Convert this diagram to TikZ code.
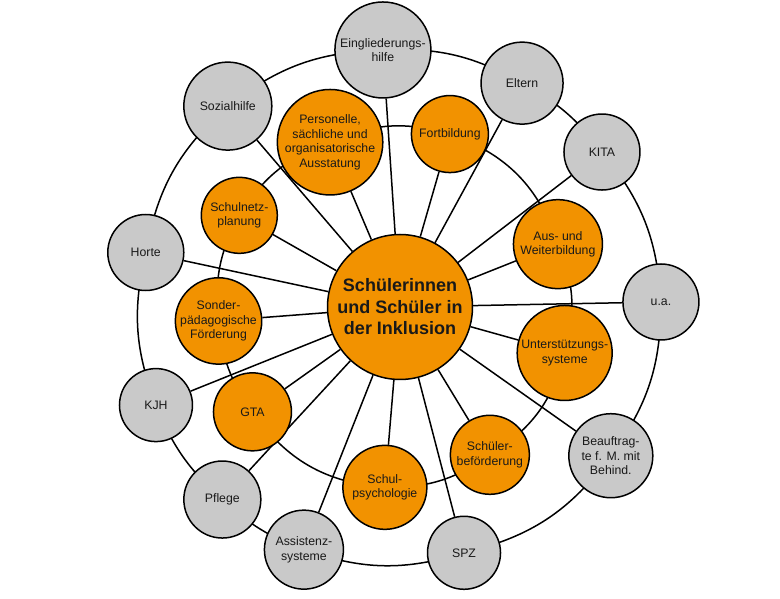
\documentclass[tikz,border=0pt]{standalone}
\usepackage{fontspec}
\setmainfont{Liberation Sans}
\usetikzlibrary{backgrounds}
\definecolor{ringgrey}{RGB}{201,201,201}
\definecolor{schoolorange}{RGB}{242,146,0}
\tikzset{
  base/.style={circle, draw=black, line width=1.5pt, inner sep=0pt, align=center,
    text=black!90, font=\fontsize{12.3}{14.5}\selectfont},
  partner/.style={base, fill=ringgrey},
  school/.style={base, fill=schoolorange},
  hub/.style={base, fill=schoolorange, minimum size=145pt,
    font=\fontsize{18}{21.5}\selectfont\bfseries},
  link/.style={line width=1.5pt}
}
\begin{document}
\begin{tikzpicture}[x=1pt, y=1pt]
  \useasboundingbox (0,0) rectangle (780,598);
  \begin{scope}[shift={(400,291)}]
    \draw
      (0,0) node[hub] (hub) {Schülerinnen\\und Schüler in\\der Inklusion}
      (93.8:257.6) node[partner, minimum size=96pt] (eingl) {Eingliederungs-\\hilfe}
      (61.4:255) node[partner, minimum size=82pt] (eltern) {Eltern}
      (37.5:254.6) node[partner, minimum size=76pt] (kita) {KITA}
      (1.1:261) node[partner, minimum size=76pt] (ua) {u.a.}
      (-35.2:258) node[partner, minimum size=84pt] (beauftragte) {Beauftrag-\\te f. M. mit\\Behind.}
      (-75.4:254) node[partner, minimum size=73pt] (spz) {SPZ}
      (-111.6:261) node[partner, minimum size=79pt] (assistenz) {Assistenz-\\systeme}
      (-132.7:262) node[partner, minimum size=77pt] (pflege) {Pflege}
      (-158.1:263) node[partner, minimum size=73pt] (kjh) {KJH}
      (167.9:260) node[partner, minimum size=76pt] (horte) {Horte}
      (130.6:264.6) node[partner, minimum size=88pt] (sozialhilfe) {Sozialhilfe}
      (113.0:179) node[school, minimum size=98pt] (personelle) {Personelle,\\sächliche und\\organisatorische\\Ausstatung}
      (73.9:180) node[school, minimum size=77pt] (fortbildung) {Fortbildung}
      (21.7:170) node[school, minimum size=89pt] (ausbildung) {Aus- und\\Weiterbildung}
      (-15.6:171) node[school, minimum size=95pt] (unterstuetzung) {Unterstützungs-\\systeme}
      (-58.7:173) node[school, minimum size=79pt] (befoerderung) {Schüler-\\beförderung}
      (-94.8:181) node[school, minimum size=84pt] (psychologie) {Schul-\\psychologie}
      (-144.6:181) node[school, minimum size=78pt] (gta) {GTA}
      (184.4:182) node[school, minimum size=85pt] (sonder) {Sonder-\\pädagogische\\Förderung}
      (150.3:185) node[school, minimum size=76pt] (schulnetz) {Schulnetz-\\planung};
  \end{scope}
  \begin{scope}[on background layer]
  \begin{scope}[link]
    % spokes
    \foreach \n in {eingl, eltern, kita, ua, beauftragte, spz, assistenz, pflege, kjh, horte, sozialhilfe,
      personelle, fortbildung, ausbildung, unterstuetzung, befoerderung, psychologie, gta, sonder, schulnetz}
      \draw (hub) to (\n);
    % outer ring, centre to centre, hidden under the circles
    \draw (eingl.center) to[bend left=16] (eltern.center);
    \draw (eltern.center) to[bend left=12] (kita.center);
    \draw (kita.center) to[bend left=18] (ua.center);
    \draw (ua.center) to[bend left=18] (beauftragte.center);
    \draw (beauftragte.center) to[bend left=20] (spz.center);
    \draw (spz.center) to[bend left=18] (assistenz.center);
    \draw (assistenz.center) to[bend left=11] (pflege.center);
    \draw (pflege.center) to[bend left=13] (kjh.center);
    \draw (kjh.center) to[bend left=17] (horte.center);
    \draw (horte.center) to[bend left=19] (sozialhilfe.center);
    \draw (sozialhilfe.center) to[bend left=18] (eingl.center);
    % inner ring
    \draw (personelle.center) to[bend left=20] (fortbildung.center);
    \draw (fortbildung.center) to[bend left=26] (ausbildung.center);
    \draw (ausbildung.center) to[bend left=19] (unterstuetzung.center);
    \draw (unterstuetzung.center) to[bend left=22] (befoerderung.center);
    \draw (befoerderung.center) to[bend left=18] (psychologie.center);
    \draw (psychologie.center) to[bend left=25] (gta.center);
    \draw (gta.center) to[bend left=15] (sonder.center);
    \draw (sonder.center) to[bend left=17] (schulnetz.center);
    \draw (schulnetz.center) to[bend left=19] (personelle.center);
  \end{scope}
  \end{scope}
\end{tikzpicture}
\end{document}
